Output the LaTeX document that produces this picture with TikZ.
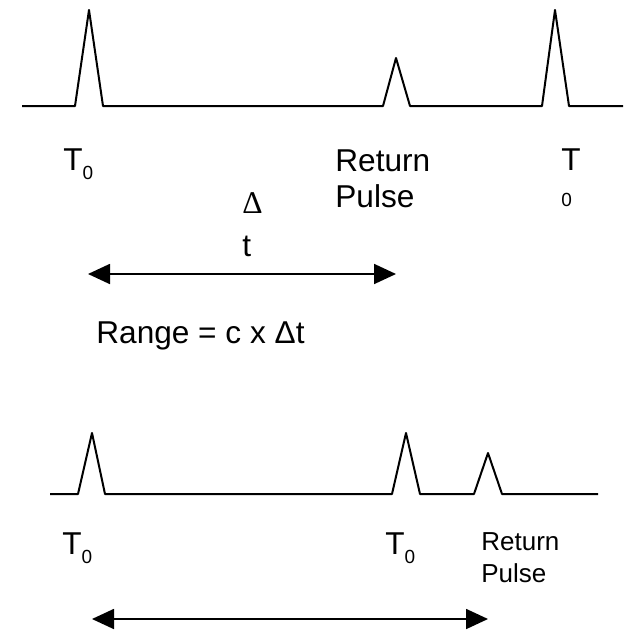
\documentclass[tikz,border=0pt]{standalone}
\usepackage{fontspec}
\setmainfont{Liberation Sans}
\newfontfamily\deltafont{Liberation Serif}
\usetikzlibrary{arrows.meta}

% T with a lowered zero
\newcommand{\Tzero}{T\raisebox{-4.5pt}{\fontsize{9.5}{11}\selectfont 0}}

\begin{document}
\begin{tikzpicture}[
    x=0.5pt, y=-0.5pt,
    trace/.style={line width=1pt, line join=round},
    lbl/.style={anchor=base west, inner sep=0pt, font=\fontsize{15.8}{18}\selectfont},
    smalllbl/.style={lbl, font=\fontsize{13}{16}\selectfont},
    span/.style={{Triangle[length=11pt,width=10pt]}-{Triangle[length=11pt,width=10pt]}, line width=0.9pt}
]
\useasboundingbox (0,0) rectangle (625,632);

% Upper trace
\draw[trace] (22,106) -- (75,106) -- (89,10) -- (103,106) -- (383,106) -- (396,58) -- (410,106)
    -- (542,106) -- (555,10) -- (569,106) -- (623,106);

% Upper labels
\node[lbl] (t0a) at (63,170) {\Tzero};
\node[lbl] (retA) at (335,171) {\begin{tabular}[t]{@{}l@{}}Return\\Pulse\end{tabular}};
\node[lbl] (t0b) at (561,170) {\begin{tabular}[t]{@{}l@{}}T\\{\fontsize{9.5}{11}\selectfont 0}\end{tabular}};
\node[lbl, font=\fontsize{15.8}{21.5}\selectfont] (dt) at (242,213) {\begin{tabular}[t]{@{}l@{}}{\deltafont Δ}\\t\end{tabular}};

% Upper span
\coordinate (spanAL) at (88,274);
\coordinate (spanAR) at (396,274);
\draw[span] (spanAL) -- (spanAR);

\node[lbl] (range) at (96,343) {Range = c x Δt};

% Lower trace
\draw[trace] (50,494) -- (78,494) -- (92,433) -- (105,494) -- (392,494) -- (406,433) -- (420,494)
    -- (474,494) -- (488,453) -- (502,494) -- (598,494);

% Lower labels
\node[lbl] (t0c) at (62,554) {\Tzero};
\node[lbl] (t0d) at (385,554) {\Tzero};
\node[smalllbl] (retB) at (481,550) {\begin{tabular}[t]{@{}l@{}}Return\\Pulse\end{tabular}};

% Lower span
\coordinate (spanBL) at (92,619);
\coordinate (spanBR) at (488,619);
\draw[span] (spanBL) -- (spanBR);

\end{tikzpicture}
\end{document}
